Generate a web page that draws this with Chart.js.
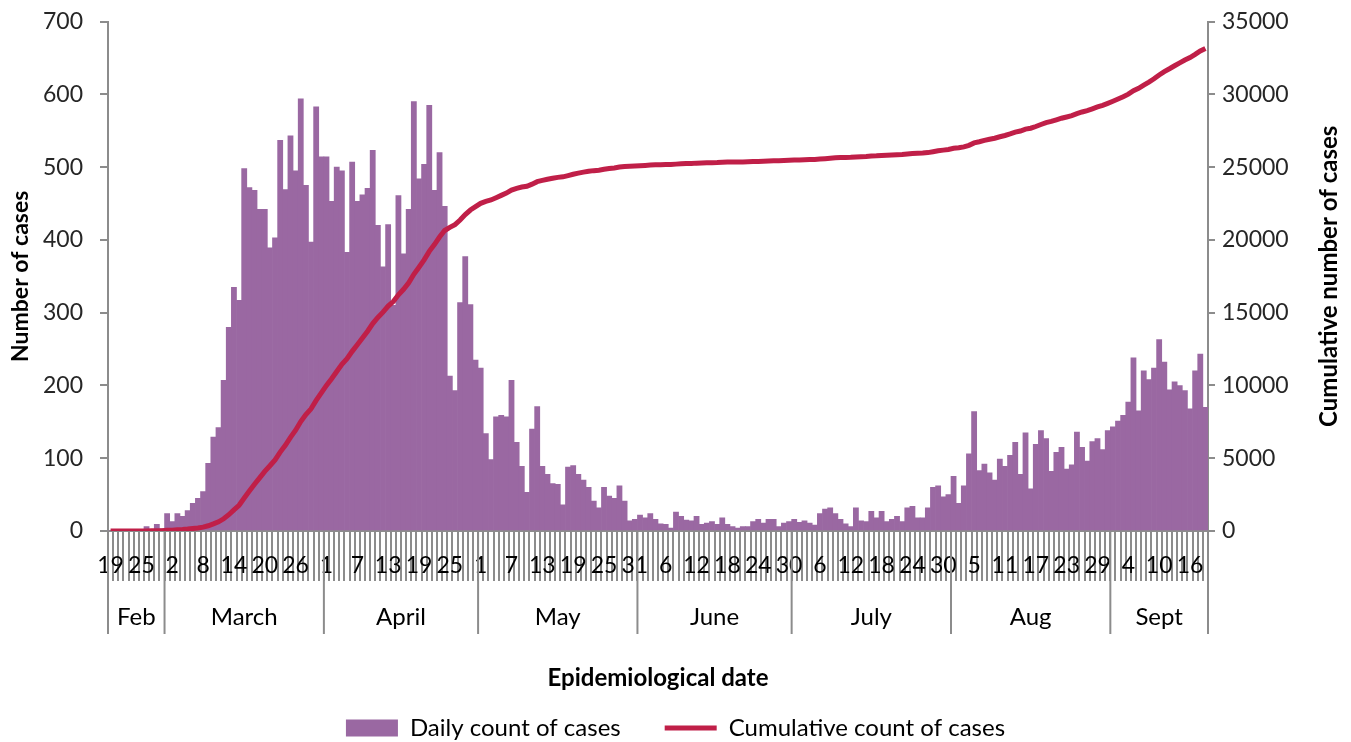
<!DOCTYPE html>
<html>
<head>
<meta charset="utf-8">
<script src="https://cdn.jsdelivr.net/npm/chart.js@4.4.1/dist/chart.umd.min.js"></script>
<style>
  html, body { margin: 0; padding: 0; background: #fff; }
  #wrap { width: 1351px; height: 742px; }
</style>
</head>
<body>
<div id="wrap"><canvas id="chart"></canvas></div>
<script>
// months on the lower row of the date axis, first and last day plotted in each
const monthNames = ['Feb', 'March', 'April', 'May', 'June', 'July', 'Aug', 'Sept'];
const monthFirstDay = [19, 1, 1, 1, 1, 1, 1, 1];
const monthLastDay = [29, 31, 30, 31, 30, 31, 31, 19];

// day numbers printed under every 6th day
const dayTicks = ['19', '25', '2', '8', '14', '20', '26', '1', '7', '13', '19', '25',
    '1', '7', '13', '19', '25', '31', '6', '12', '18', '24', '30', '6', '12', '18', '24', '30',
    '5', '11', '17', '23', '29', '4', '10', '16'];

const dailyCases = [
    // Feb
    0, 0, 0, 0, 0, 0, 1, 6, 2, 9, 3,
    // March
    24, 13, 24, 20, 28, 38, 45, 54, 93, 129, 142, 207, 280, 335, 317, 498, 472, 468, 442, 442,
    389, 403, 537, 469, 543, 495, 594, 475, 397, 583, 514,
    // April
    514, 453, 500, 495, 383, 507, 453, 462, 471, 523, 420, 363, 421, 310, 461, 381, 442, 590, 484, 504,
    585, 468, 520, 446, 213, 193, 314, 377, 311, 235,
    // May
    224, 134, 98, 157, 159, 157, 207, 122, 89, 53, 140, 171, 89, 78, 65, 64, 36, 88, 90, 78,
    70, 60, 41, 32, 60, 48, 45, 62, 41, 14, 16,
    // June
    22, 18, 24, 16, 10, 9, 4, 26, 20, 15, 14, 20, 9, 11, 13, 9, 18, 9, 6, 4,
    6, 6, 13, 16, 11, 16, 16, 6, 11, 13,
    // July
    16, 12, 14, 11, 8, 24, 30, 32, 24, 16, 10, 6, 32, 14, 13, 27, 18, 27, 13, 16,
    20, 13, 32, 34, 18, 18, 32, 60, 62, 47, 50,
    // Aug
    75, 38, 62, 106, 164, 83, 92, 80, 70, 99, 89, 104, 122, 78, 135, 58, 119, 138, 127, 82,
    108, 115, 85, 91, 136, 115, 96, 123, 127, 112, 138,
    // Sept
    143, 151, 159, 177, 238, 165, 220, 208, 224, 263, 232, 194, 205, 200, 193, 168, 220, 243, 170
];

const cumulativeCases = [
    // Feb
    0, 0, 0, 0, 0, 0, 1, 7, 9, 18, 21,
    // March
    45, 58, 82, 102, 130, 168, 213, 267, 360, 489, 631, 838, 1118, 1453, 1770, 2268, 2740, 3208, 3650, 4092,
    4481, 4884, 5421, 5890, 6433, 6928, 7522, 7997, 8394, 8977, 9491,
    // April
    10005, 10458, 10958, 11453, 11836, 12343, 12796, 13258, 13729, 14252, 14672, 15035, 15456, 15766, 16227,
    16608, 17050, 17640, 18124, 18628, 19213, 19681, 20201, 20647, 20860, 21053, 21367, 21744, 22055, 22290,
    // May
    22514, 22648, 22746, 22903, 23062, 23219, 23426, 23548, 23637, 23690, 23830, 24001, 24090, 24168, 24233,
    24297, 24333, 24421, 24511, 24589, 24659, 24719, 24760, 24792, 24852, 24900, 24945, 25007, 25048, 25062, 25078,
    // June
    25100, 25118, 25142, 25158, 25168, 25177, 25181, 25207, 25227, 25242, 25256, 25276, 25285, 25296, 25309,
    25318, 25336, 25345, 25351, 25355, 25361, 25367, 25380, 25396, 25407, 25423, 25439, 25445, 25456, 25469,
    // July
    25485, 25497, 25511, 25522, 25530, 25554, 25584, 25616, 25640, 25656, 25666, 25672, 25704, 25718, 25731,
    25758, 25776, 25803, 25816, 25832, 25852, 25865, 25897, 25931, 25949, 25967, 25999, 26059, 26121, 26168, 26218,
    // Aug
    26293, 26331, 26393, 26499, 26663, 26746, 26838, 26918, 26988, 27087, 27176, 27280, 27402, 27480, 27615,
    27673, 27792, 27930, 28057, 28139, 28247, 28362, 28447, 28538, 28674, 28789, 28885, 29008, 29135, 29247, 29385,
    // Sept
    29528, 29679, 29838, 30015, 30253, 30418, 30638, 30846, 31070, 31333, 31565, 31759, 31964, 32164, 32357,
    32525, 32745, 32988, 33158
];

const rightAxisTitle = 'Cumulative number of cases';

const axisGrey = '#8c8c8c';
const barColor = '#9a68a2';
const lineColor = '#c01f48';
const fontFamily = "Lato, 'Open Sans', sans-serif";

// one category per day
const categories = [];
monthNames.forEach(function (name, m) {
    for (let d = monthFirstDay[m]; d <= monthLastDay[m]; d++) {
        categories.push(d + ' ' + name);
    }
});

Chart.defaults.font.family = fontFamily;

// month names and long separators under the day ticks
const monthRow = {
    id: 'monthRow',
    afterDraw: function (chart) {
        const x = chart.scales.x;
        const ctx = chart.ctx;
        const bottom = chart.chartArea.bottom;
        const half = (x.getPixelForValue(1) - x.getPixelForValue(0)) / 2;
        ctx.save();
        ctx.strokeStyle = axisGrey;
        ctx.lineWidth = 2;
        ctx.fillStyle = '#000';
        ctx.font = '24px ' + fontFamily;
        ctx.textAlign = 'center';
        ctx.textBaseline = 'middle';
        let start = 0;
        monthNames.forEach(function (name, m) {
            const count = monthLastDay[m] - monthFirstDay[m] + 1;
            const left = x.getPixelForValue(start) - half;
            const right = x.getPixelForValue(start + count - 1) + half;
            ctx.beginPath();
            ctx.moveTo(left, bottom);
            ctx.lineTo(left, bottom + 103);
            if (m === monthNames.length - 1) {
                ctx.moveTo(right, bottom);
                ctx.lineTo(right, bottom + 103);
            }
            ctx.stroke();
            ctx.fillText(name, (left + right) / 2, bottom + 86);
            start += count;
        });
        ctx.restore();
    }
};

// right hand title reads bottom to top like the left one
const rightTitle = {
    id: 'rightTitle',
    afterDraw: function (chart) {
        const s = chart.scales.y1;
        const ctx = chart.ctx;
        ctx.save();
        ctx.translate(s.right - 22, (s.top + s.bottom) / 2);
        ctx.rotate(-Math.PI / 2);
        ctx.fillStyle = '#000';
        ctx.font = 'bold 24px ' + fontFamily;
        ctx.textAlign = 'center';
        ctx.textBaseline = 'middle';
        ctx.fillText(rightAxisTitle, 0, 0);
        ctx.restore();
    }
};

const ctx = document.getElementById('chart');

new Chart(ctx, {
    type: 'bar',
    data: {
        labels: categories,
        datasets: [{
                label: 'Daily count of cases',
                data: dailyCases,
                backgroundColor: barColor,
                borderWidth: 0,
                barPercentage: 1,
                categoryPercentage: 1,
                yAxisID: 'y',
                order: 0
            },
            {
                type: 'line',
                label: 'Cumulative count of cases',
                data: cumulativeCases,
                borderColor: lineColor,
                backgroundColor: lineColor,
                borderWidth: 5,
                pointRadius: 0,
                tension: 0,
                fill: false,
                yAxisID: 'y1',
                order: -1
            }
        ]
    },
    options: {
        responsive: true,
        maintainAspectRatio: false,
        animation: false,
        layout: { padding: { top: 13, left: 0, right: 0, bottom: -8 } },
        plugins: {
            tooltip: { enabled: false },
            legend: {
                position: 'bottom',
                labels: {
                    usePointStyle: true,
                    pointStyleWidth: 52,
                    boxHeight: 17,
                    padding: 14,
                    color: '#000',
                    font: { size: 24 },
                    sort: function (a, b) { return a.datasetIndex - b.datasetIndex; },
                    generateLabels: function (chart) {
                        const items = Chart.defaults.plugins.legend.labels.generateLabels(chart);
                        items.forEach(function (item) {
                            const ds = chart.data.datasets[item.datasetIndex];
                            if (ds.type === 'line') {
                                item.pointStyle = 'line';
                                item.lineWidth = 5;
                                item.strokeStyle = lineColor;
                            } else {
                                item.pointStyle = 'rect';
                                item.lineWidth = 0;
                                item.fillStyle = barColor;
                                item.text = ds.label + '\u2003\u2002';
                            }
                        });
                        return items;
                    }
                }
            }
        },
        scales: {
            x: {
                grid: { display: true, drawOnChartArea: false, drawTicks: true, tickLength: 50, color: axisGrey, lineWidth: 2 },
                border: { display: true, color: axisGrey, width: 2 },
                ticks: {
                    autoSkip: false,
                    maxRotation: 0,
                    minRotation: 0,
                    padding: -29,
                    color: '#000',
                    font: { size: 23 },
                    callback: function (value, index) {
                        return index % 6 === 0 ? dayTicks[index / 6] : '';
                    }
                },
                title: {
                    display: true,
                    text: 'Epidemiological date',
                    color: '#000',
                    font: { size: 24, weight: 'bold' },
                    padding: { top: 0, bottom: 9 }
                },
                afterFit: function (scale) { scale.height = 171; }
            },
            y: {
                position: 'left',
                min: 0,
                max: 700,
                ticks: { stepSize: 100, padding: 17, color: '#262626', font: { size: 23, lineHeight: 0.4 } },
                grid: { drawOnChartArea: false, tickLength: 8, color: axisGrey, lineWidth: 2 },
                border: { color: axisGrey, width: 2 },
                title: {
                    display: true,
                    text: 'Number of cases',
                    color: '#000',
                    font: { size: 23, weight: 'bold' },
                    padding: { top: 7, bottom: 0 }
                },
                afterFit: function (scale) { scale.width = 108; }
            },
            y1: {
                position: 'right',
                min: 0,
                max: 35000,
                ticks: {
                    stepSize: 5000,
                    padding: 7,
                    color: '#262626',
                    font: { size: 23, lineHeight: 0.4 },
                    callback: function (value) { return String(value); }
                },
                grid: { drawOnChartArea: false, tickLength: 7, color: axisGrey, lineWidth: 2 },
                border: { color: axisGrey, width: 2 },
                afterFit: function (scale) { scale.width = 143; }
            }
        }
    },
    plugins: [monthRow, rightTitle]
});
</script>
</body>
</html>
